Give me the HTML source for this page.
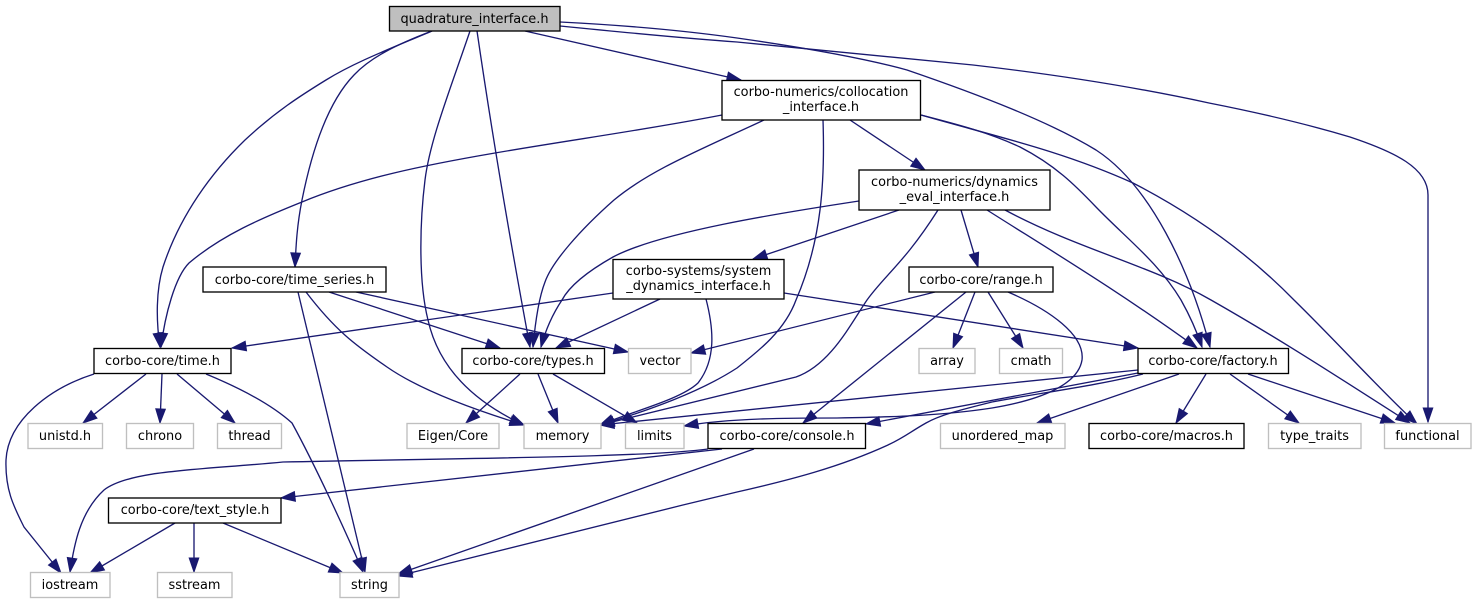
<!DOCTYPE html>
<html><head><meta charset="utf-8">
<style>
html,body{margin:0;padding:0;background:#fff}
svg{display:block}
text{font-family:"DejaVu Sans","Liberation Sans",sans-serif;font-size:12.9px;text-anchor:middle;fill:#000}
.e path{fill:none;stroke:#191970;stroke-width:1.33;marker-end:url(#a)}
.n rect{fill:#fff;stroke:#000;stroke-width:1.33}
.g rect{fill:#fff;stroke:#bfbfbf;stroke-width:1.33}
</style></head><body>
<svg width="1477" height="604" viewBox="0 0 1477 604" xmlns="http://www.w3.org/2000/svg">
<defs><marker id="a" markerUnits="userSpaceOnUse" markerWidth="18" markerHeight="14" refX="14" refY="5" orient="auto" overflow="visible"><path d="M0,0.2L14,5L0,9.8z" fill="#191970" stroke="#191970" stroke-width="1"/></marker></defs>
<g class="e">
<path d="M432,31C392,48 355,62 326,80C300,96 275,112 245,140C212,172 180,215 163,267C156,290 156,320 160,347"/>
<path d="M432,31C395,45 370,58 354,75C325,105 310,160 302,200C297,225 296,245 295,267"/>
<path d="M470,31C450,90 430,140 425,180C420,220 418,280 428,320C438,365 470,400 524,425"/>
<path d="M477,31C490,120 510,240 530,347"/>
<path d="M525,31L741,80"/>
<path d="M560,22C620,25 680,30 737,38C800,47 860,57 907,70C980,95 1050,122 1096,150C1150,185 1190,270 1210,347"/>
<path d="M560,26C620,32 680,38 737,42C820,50 900,58 973,65C1060,75 1140,88 1209,103C1270,115 1320,128 1350,137C1395,152 1428,168 1428,195L1428,422"/>
<path d="M722,115C645,130 570,140 495,153C425,165 360,178 302,202C262,218 222,235 189,263C175,277 165,315 161,347"/>
<path d="M764,120C700,150 650,170 614,200C580,230 552,262 545,282C538,300 535,325 533,347"/>
<path d="M823,120C825,180 822,240 796,300C785,330 760,350 737,368C700,392 650,410 600,425"/>
<path d="M850,120L925,170"/>
<path d="M921,115C960,125 990,133 1020,147C1055,165 1075,185 1096,207C1128,240 1158,262 1181,300C1190,316 1197,332 1202,347"/>
<path d="M921,115C990,135 1060,150 1133,183C1195,215 1250,255 1294,300C1340,345 1380,390 1417,424"/>
<path d="M859,201C780,213 660,232 613,257C590,270 570,285 562,300C552,315 545,332 541,347"/>
<path d="M899,210L753,259"/>
<path d="M938,210C905,262 885,275 867,300C850,325 830,365 796,377L600,425"/>
<path d="M961,210L978,267"/>
<path d="M987,210C1050,250 1120,292 1197,348"/>
<path d="M1005,210C1080,250 1150,265 1211,300C1290,345 1350,385 1410,423"/>
<path d="M613,293L232,348"/>
<path d="M660,299L556,348"/>
<path d="M706,299C714,330 716,360 698,383C680,400 630,412 600,425"/>
<path d="M784,293L1138,348"/>
<path d="M298,292L365,572"/>
<path d="M306,292C335,330 355,345 387,367C420,390 475,410 524,425"/>
<path d="M329,292L500,348"/>
<path d="M356,292L628,352"/>
<path d="M935,292L691,353"/>
<path d="M966,292L803,423"/>
<path d="M975,292L953,348"/>
<path d="M988,292L1023,348"/>
<path d="M1008,292C1050,310 1085,335 1082,360C1078,385 1040,400 992,408C940,416 890,417 837,418C790,418 730,418 684,426"/>
<path d="M1138,370L600,425"/>
<path d="M1138,373L866,424"/>
<path d="M1143,374C1100,385 1040,393 992,402C960,410 940,415 926,423C910,432 905,437 888,445C840,467 790,480 737,492C620,520 500,550 398,576"/>
<path d="M1179,374L1037,423"/>
<path d="M1206,374L1176,423"/>
<path d="M1230,374L1299,423"/>
<path d="M1248,374L1395,423"/>
<path d="M520,374L466,423"/>
<path d="M538,374L558,423"/>
<path d="M553,374L637,423"/>
<path d="M94,374C50,388 8,420 6,460C5,490 14,507 24,527L61,573"/>
<path d="M146,374L83,423"/>
<path d="M162,374L160,423"/>
<path d="M177,374L235,423"/>
<path d="M206,374C240,388 272,405 292,423C315,465 345,530 363,572"/>
<path d="M708,449C650,457 480,458 283,462C200,470 130,470 104,490C80,512 74,545 70,572"/>
<path d="M722,449L281,498"/>
<path d="M754,449L398,574"/>
<path d="M175,523L90,573"/>
<path d="M194,523L194,572"/>
<path d="M223,523L343,573"/>
</g>
<g class="n">
<rect x="389.5" y="6.5" width="170.5" height="24.5" style="fill:#bfbfbf"/>
<rect x="203" y="267" width="183" height="25"/>
<rect x="722" y="80.5" width="198.5" height="39.5"/>
<rect x="859" y="170" width="191" height="40"/>
<rect x="613" y="259.5" width="171" height="39.5"/>
<rect x="909" y="267" width="144" height="25"/>
<rect x="94" y="348.5" width="137" height="25"/>
<rect x="462" y="348.5" width="142.5" height="25"/>
<rect x="708" y="423.5" width="157.5" height="25"/>
<rect x="108.5" y="498" width="172.5" height="25"/>
<rect x="1138" y="348.5" width="150.5" height="25"/>
<rect x="1089" y="423.5" width="155" height="25"/>
</g>
<g class="g">
<rect x="628.5" y="348.5" width="62.5" height="25"/>
<rect x="28" y="423.5" width="74.5" height="25"/>
<rect x="126.5" y="423.5" width="67" height="25"/>
<rect x="217.5" y="423.5" width="64" height="25"/>
<rect x="407" y="423.5" width="92" height="25"/>
<rect x="524" y="423.5" width="77" height="25"/>
<rect x="625.5" y="423.5" width="58.5" height="25"/>
<rect x="30.5" y="572.5" width="79.5" height="25"/>
<rect x="157.5" y="572.5" width="74.5" height="25"/>
<rect x="340" y="572.5" width="59" height="25"/>
<rect x="919" y="348.5" width="56" height="25"/>
<rect x="999.5" y="348.5" width="63" height="25"/>
<rect x="940.5" y="423.5" width="124.5" height="25"/>
<rect x="1268.5" y="423.5" width="92.5" height="25"/>
<rect x="1384.5" y="423.5" width="86.5" height="25"/>
</g>
<text x="474.5" y="23">quadrature_interface.h</text>
<text x="294.5" y="284">corbo-core/time_series.h</text>
<text x="821" y="96">corbo-numerics/collocation</text>
<text x="821" y="111">_interface.h</text>
<text x="954.5" y="186">corbo-numerics/dynamics</text>
<text x="954.5" y="201">_eval_interface.h</text>
<text x="698.5" y="275">corbo-systems/system</text>
<text x="698.5" y="290">_dynamics_interface.h</text>
<text x="981" y="284">corbo-core/range.h</text>
<text x="162.5" y="365">corbo-core/time.h</text>
<text x="533" y="365">corbo-core/types.h</text>
<text x="660" y="365">vector</text>
<text x="65" y="440">unistd.h</text>
<text x="160" y="440">chrono</text>
<text x="249.5" y="440">thread</text>
<text x="453" y="440">Eigen/Core</text>
<text x="562.5" y="440">memory</text>
<text x="654.5" y="440">limits</text>
<text x="787" y="440">corbo-core/console.h</text>
<text x="195" y="514">corbo-core/text_style.h</text>
<text x="70" y="589">iostream</text>
<text x="194.5" y="589">sstream</text>
<text x="369.5" y="589">string</text>
<text x="947" y="365">array</text>
<text x="1031" y="365">cmath</text>
<text x="1213" y="365">corbo-core/factory.h</text>
<text x="1002.5" y="440">unordered_map</text>
<text x="1166.5" y="440">corbo-core/macros.h</text>
<text x="1314.5" y="440">type_traits</text>
<text x="1427.5" y="440">functional</text>
</svg>
</body></html>
